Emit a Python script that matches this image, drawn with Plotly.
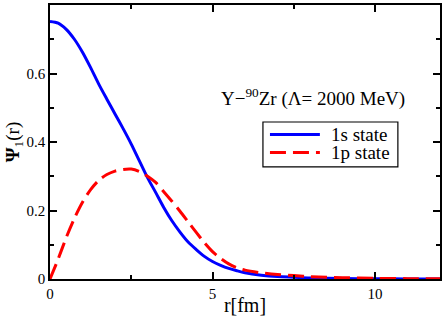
import plotly.graph_objects as go

r_1s = [0, 0.25, 0.5, 0.75, 1.0, 1.25, 1.5, 1.75, 2.0, 2.25, 2.5, 2.75, 3.0, 3.25, 3.5, 3.75, 4.0, 4.25, 4.5, 4.75, 5.0, 5.25, 5.5, 5.75, 6.0, 6.5, 7.0, 7.5, 8.0, 9.0, 10.0, 11.0, 12.0]
psi_1s = [0.752, 0.747, 0.729, 0.700, 0.662, 0.617, 0.569, 0.525, 0.482, 0.439, 0.394, 0.345, 0.296, 0.253, 0.209, 0.170, 0.137, 0.108, 0.086, 0.066, 0.051, 0.040, 0.031, 0.024, 0.018, 0.011, 0.007, 0.005, 0.003, 0.0015, 0.0007, 0.0003, 0.0001]

r_1p = [0, 0.25, 0.5, 0.75, 1.0, 1.25, 1.5, 1.75, 2.0, 2.25, 2.5, 2.75, 3.0, 3.25, 3.5, 3.75, 4.0, 4.25, 4.5, 4.75, 5.0, 5.25, 5.5, 5.75, 6.0, 6.5, 7.0, 7.5, 8.0, 9.0, 10.0, 11.0, 12.0]
psi_1p = [0.0, 0.058, 0.121, 0.177, 0.224, 0.261, 0.288, 0.305, 0.315, 0.320, 0.321, 0.314, 0.300, 0.282, 0.255, 0.227, 0.198, 0.167, 0.136, 0.106, 0.080, 0.060, 0.044, 0.033, 0.026, 0.018, 0.013, 0.010, 0.007, 0.004, 0.002, 0.001, 0.0005]

series_names = ["1s state", "1p state"]
series_colors = ["#0000ff", "#ff0000"]
series_dash = ["solid", "16px,7px"]
x_ticks = [0, 5, 10]
y_ticks = [0, 0.2, 0.4, 0.6, 0.8]
y_ticklabels = ["0", "0.2", "0.4", "0.6", "0.8"]

FONT = "Liberation Serif"

fig = go.Figure()
fig.add_trace(go.Scatter(x=r_1s, y=psi_1s, mode="lines", name=series_names[0],
                         line=dict(color=series_colors[0], width=3, dash=series_dash[0],
                                   shape="spline", smoothing=0.8)))
fig.add_trace(go.Scatter(x=r_1p, y=psi_1p, mode="lines", name=series_names[1],
                         line=dict(color=series_colors[1], width=3, dash=series_dash[1],
                                   shape="spline", smoothing=0.8)))

axis_common = dict(showgrid=False, zeroline=False, showline=True, linecolor="black", linewidth=1.5,
                   mirror="ticks", ticks="inside", ticklen=7, tickwidth=1.5, tickcolor="black",
                   automargin=False,
                   tickfont=dict(family=FONT, size=15, color="black"))

fig.update_xaxes(range=[0, 12], tickvals=x_ticks, ticktext=[str(v) for v in x_ticks],
                 minor=dict(ticks="inside", ticklen=4, dtick=2.5, tickcolor="black", tickwidth=1.5),
                 title=dict(text="r[fm]", font=dict(family=FONT, size=20, color="black"), standoff=0),
                 **axis_common)
fig.update_yaxes(range=[0, 0.8], tickvals=y_ticks, ticktext=y_ticklabels,
                 minor=dict(ticks="inside", ticklen=4, dtick=0.1, tickcolor="black", tickwidth=1.5),
                 title=dict(text="<b>Ψ</b><sub>1</sub>(r)", font=dict(family=FONT, size=19, color="black"), standoff=2),
                 **axis_common)

fig.add_annotation(x=0.674, y=0.664, xref="paper", yref="paper", showarrow=False,
                   xanchor="center", yanchor="middle",
                   text="Y−<sup>90</sup>Zr (Λ= 2000 MeV)",
                   font=dict(family=FONT, size=19, color="black"))

# legend box drawn in paper coordinates
fig.add_shape(type="rect", xref="paper", yref="paper", x0=0.546, x1=0.892, y0=0.409, y1=0.573,
              line=dict(color="black", width=1.2), fillcolor="white", layer="above")
legend_rows_y = [0.527, 0.462]
for name, color, dash, yy in zip(series_names, series_colors, series_dash, legend_rows_y):
    fig.add_shape(type="line", xref="paper", yref="paper", x0=0.564, x1=0.692, y0=yy, y1=yy,
                  line=dict(color=color, width=3, dash=dash), layer="above")
    fig.add_annotation(x=0.715, y=yy, xref="paper", yref="paper", showarrow=False,
                       xanchor="left", yanchor="middle", text=name,
                       font=dict(family=FONT, size=19, color="black"))

fig.update_layout(
    width=443, height=316,
    margin=dict(l=50, r=3, t=5, b=37),
    paper_bgcolor="white", plot_bgcolor="white",
    font=dict(family=FONT, color="black"),
    showlegend=False,
)

fig.write_html("out.html", config={"displayModeBar": False},
               post_script="document.body.style.margin='0';document.body.style.padding='0';")
